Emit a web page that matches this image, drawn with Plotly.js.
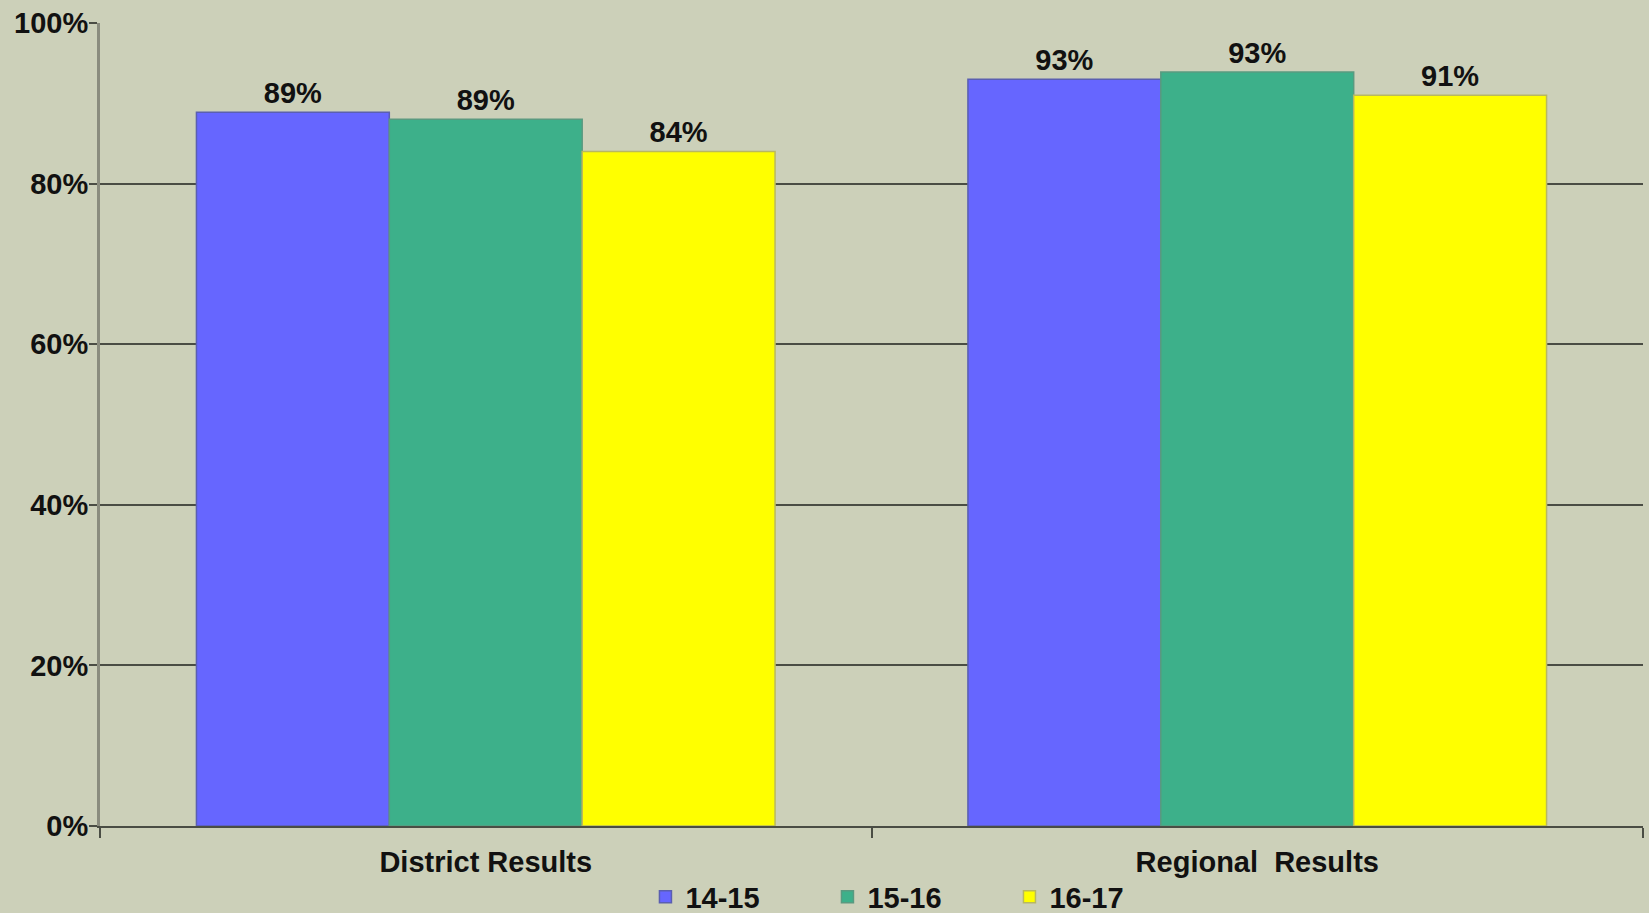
<!DOCTYPE html>
<html>
<head>
<meta charset="utf-8">
<script src="https://cdn.plot.ly/plotly-3.0.1.min.js"></script>
<style>html,body{margin:0;padding:0;background:#CCD0B9;}#chart{width:1649px;height:913px;}</style>
</head>
<body>
<div id="chart"></div>
<script>
const categories = ["District Results", "Regional\u00a0 Results"];
const seriesNames = ["14-15", "15-16", "16-17"];
const values1415 = [88.9, 93.0];
const values1516 = [88.0, 93.9];
const values1617 = [84.0, 91.0];
const labels1415 = ["89%", "93%"];
const labels1516 = ["89%", "93%"];
const labels1617 = ["84%", "91%"];
const yTickVals = [0, 20, 40, 60, 80, 100];
const yTickText = ["0%", "20%", "40%", "60%", "80%", "100%"];

const colors = ["#6666FF", "#3DB08A", "#FFFF00"];
const outline = ["#5a5fb0", "#5a9a80", "#b8b860"];
const fontFam = "'Liberation Sans', Arial, sans-serif";
const txtFont = {family: fontFam, size: 29, color: "#111", weight: "bold"};

const vals = [values1415, values1516, values1617];
const labs = [labels1415, labels1516, labels1617];

const traces = seriesNames.map((name, i) => ({
  type: "bar",
  name: name,
  x: categories,
  y: vals[i],
  text: labs[i],
  textposition: "outside",
  cliponaxis: false,
  textfont: txtFont,
  marker: {color: colors[i], line: {color: outline[i], width: 1.5}},
  hoverinfo: "skip"
}));

const layout = {
  width: 1649,
  height: 913,
  paper_bgcolor: "#CCD0B9",
  plot_bgcolor: "#CCD0B9",
  margin: {l: 100, r: 6, t: 23, b: 87, autoexpand: false},
  barmode: "group",
  bargap: 0.25,
  bargroupgap: 0,
  showlegend: true,
  legend: {
    orientation: "h",
    x: 0.3535, xanchor: "left",
    yref: "container",
    y: 0.0175, yanchor: "middle",
    font: txtFont,
    itemwidth: 30,
    entrywidth: 137,
    traceorder: "normal",
    bgcolor: "rgba(0,0,0,0)"
  },
  font: txtFont,
  xaxis: {
    type: "category",
    showline: true,
    linecolor: "#4a4d44",
    linewidth: 2,
    ticks: "outside",
    tickson: "boundaries",
    ticklen: 10,
    tickwidth: 2,
    tickcolor: "#4a4d44",
    showgrid: false,
    ticklabelstandoff: 9,
    tickfont: txtFont,
    fixedrange: true
  },
  yaxis: {
    range: [0, 100],
    tickvals: yTickVals,
    ticktext: yTickText,
    showline: true,
    linecolor: "#8a8c7e",
    linewidth: 3,
    ticks: "outside",
    ticklen: 8,
    tickwidth: 2,
    tickcolor: "#4a4d44",
    showgrid: true,
    gridcolor: "#4a4d44",
    gridwidth: 2,
    zeroline: false,
    ticklabelstandoff: -5,
    tickfont: txtFont,
    fixedrange: true
  }
};

Plotly.newPlot("chart", traces, layout, {displayModeBar: false, staticPlot: true});
</script>
</body>
</html>
